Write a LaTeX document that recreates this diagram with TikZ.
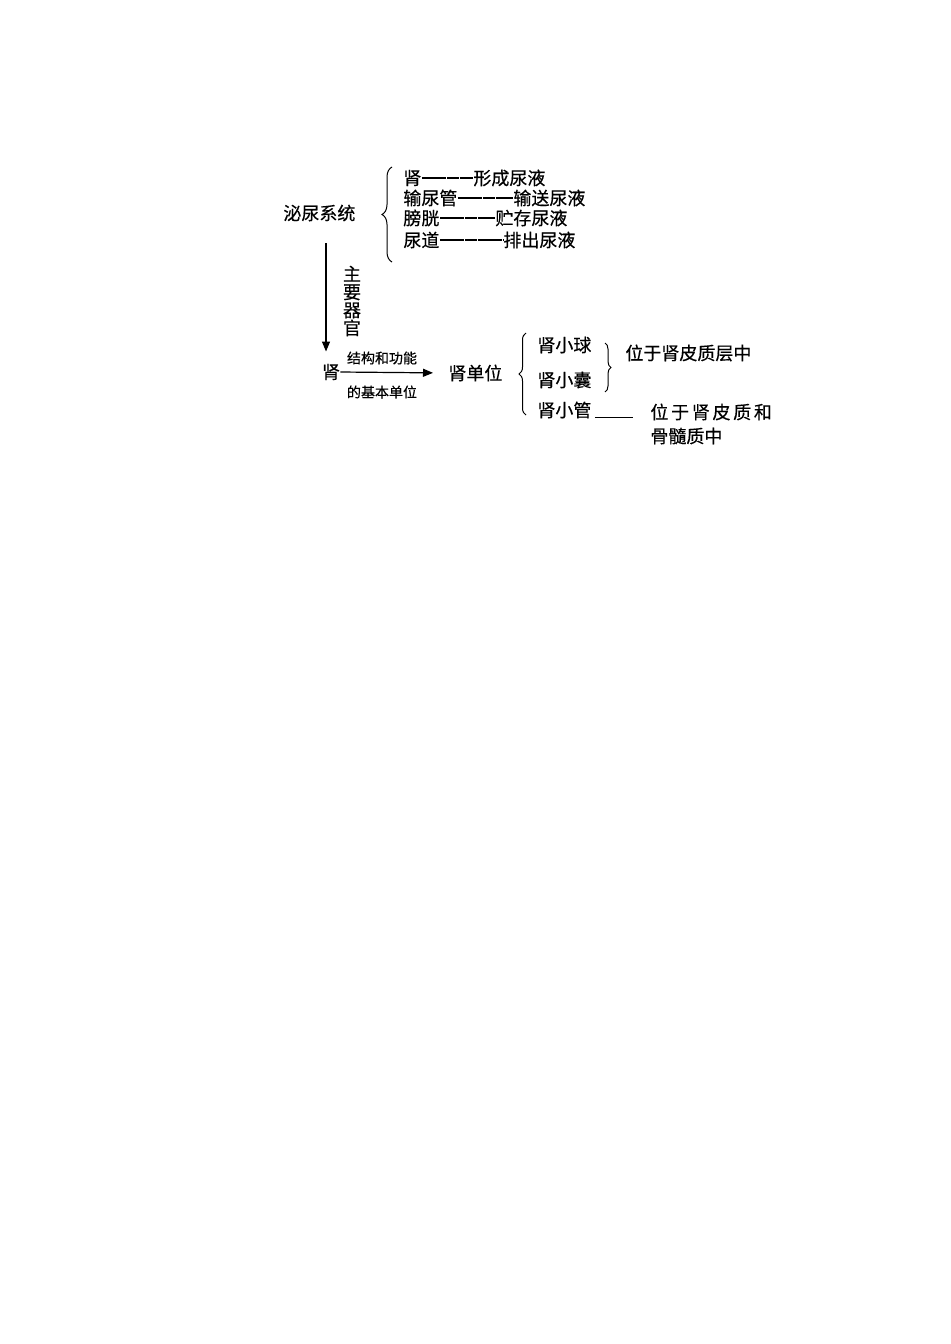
\documentclass[tikz,border=0pt]{standalone}
\usepackage{fontspec}
\newfontfamily\cjk[FakeBold=0.4]{Noto Sans CJK SC}
\newfontfamily\cjkwide[LetterSpace=15,FakeBold=0.4]{Noto Sans CJK SC}
\usetikzlibrary{arrows.meta,decorations.pathreplacing,calc}
\begin{document}
\begin{tikzpicture}[x=0.5pt,y=-0.5pt]
\useasboundingbox (0,0) rectangle (950,1344);
\tikzset{
 txt/.style={font=\cjk\fontsize{9}{9}\selectfont, inner sep=0pt},
 widetxt/.style={font=\cjkwide\fontsize{9}{9}\selectfont, inner sep=0pt},
 small/.style={font=\cjk\fontsize{7}{7}\selectfont, inner sep=0pt},
 dashline/.style={line width=0.6pt, dash pattern=on 6pt off 0.3pt},
 thinline/.style={line width=0.5pt},
 brc/.style={decorate, decoration={brace, amplitude=#1}, line width=0.5pt},
 arr/.style={line width=0.6pt, -{Triangle[length=5pt,width=4pt]}},
}
% top group
\node[txt,anchor=west] (mn) at (283,213) {泌尿系统};
\coordinate (br1b) at (392,262);
\coordinate (br1t) at (392,167);
\draw[brc=5pt] (br1b) -- (br1t);

\node[txt,anchor=west] (a1) at (403,178) {肾};
\node[txt,anchor=west] (b1) at (473,178) {形成尿液};
\draw[dashline] (a1.east) -- (b1.west);
\node[txt,anchor=west] (a2) at (403,198) {输尿管};
\node[txt,anchor=west] (b2) at (513,198) {输送尿液};
\draw[dashline] (a2.east) -- (b2.west);
\node[txt,anchor=west] (a3) at (403,218) {膀胱};
\node[txt,anchor=west] (b3) at (495,218) {贮存尿液};
\draw[dashline] (a3.east) -- (b3.west);
\node[txt,anchor=west] (a4) at (403,240) {尿道};
\node[txt,anchor=west] (b4) at (503,240) {排出尿液};
\draw[dashline] (a4.east) -- (b4.west);

% vertical arrow
\coordinate (vtop) at (326,243);
\node[txt] (shen) at (331,372) {肾};
\draw[arr, shorten >=6pt] (vtop) -- (vtop |- shen.north);
\node[txt,align=center] (zy) at (352,301) {主\\要\\器\\官};

% horizontal arrow
\node[txt,anchor=west] (dw) at (448,373) {肾单位};
\draw[arr, shorten >=7.5pt] (shen.east) -- (dw.west);
\node[small] (l1) at (382,358) {结构和功能};
\node[small] (l2) at (382,392) {的基本单位};

% nephron parts
\coordinate (br2b) at (526,415);
\coordinate (br2t) at (526,333);
\draw[brc=3.5pt] (br2b) -- (br2t);
\node[txt,anchor=west] (gq) at (537,345) {肾小球};
\node[txt,anchor=west] (gn) at (537,380) {肾小囊};
\node[txt,anchor=west] (gx) at (537,410) {肾小管};

\coordinate (br3t) at (605,343);
\coordinate (br3b) at (605,392);
\draw[brc=3pt] (br3t) -- (br3b);
\node[txt,anchor=west] (w0) at (625,353) {位于肾皮质层中};

\node[widetxt,anchor=west] (w1) at (650,412) {位于肾皮质和};
\node[txt,anchor=west] (w2) at (650,436) {骨髓质中};
\draw[thinline] ($(gx.east)+(3,7)$) -- ($(w1.west)+(-17,5)$);
\end{tikzpicture}
\end{document}
